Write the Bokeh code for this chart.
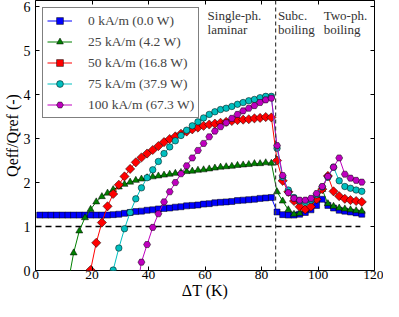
from math import pi
from bokeh.plotting import figure
from bokeh.models import (Legend, LegendItem, Span, Label, LinearAxis, FixedTicker,
                          CustomJSTickFormatter, Range1d)
from bokeh.embed import file_html
from bokeh.resources import INLINE

# ---------------- data ----------------
dT = [1.5, 3.5, 5.5, 7.5, 9.5, 11.5, 13.5, 15.5, 17.5, 19.5, 21.5, 23.5, 25.5, 27.5,
      29.5, 31.5, 33.5, 35.5, 37.5, 39.5, 41.5, 43.5, 45.5, 47.5, 49.5, 51.5, 53.5,
      55.5, 57.5, 59.5, 61.5, 63.5, 65.5, 67.5, 69.5, 71.5, 73.5, 75.5, 77.5, 79.5,
      81.5, 83.5, 85.5, 87.5, 89.5, 91.5, 93.5, 95.5, 97.5, 99.5, 101.5, 103.5,
      105.5, 107.5, 109.5, 111.5, 113.5, 115.5]

q0 = [1.26, 1.26, 1.26, 1.26, 1.26, 1.26, 1.26, 1.26, 1.26, 1.26, 1.26, 1.26, 1.26,
      1.27, 1.28, 1.30, 1.32, 1.34, 1.35, 1.37, 1.38, 1.40, 1.41, 1.42, 1.44, 1.45,
      1.47, 1.48, 1.49, 1.51, 1.52, 1.54, 1.55, 1.56, 1.57, 1.59, 1.60, 1.61, 1.62,
      1.64, 1.65, 1.66,
      1.33, 1.27, 1.26, 1.26, 1.28, 1.32, 1.38, 1.48, 1.62, 1.48, 1.42, 1.37, 1.35,
      1.33, 1.31, 1.28]

q25 = [-0.30, 0.40, 0.90, 1.20, 1.39, 1.56, 1.68, 1.76, 1.84, 1.90, 1.96, 2.01, 2.05,
       2.08, 2.11, 2.13, 2.15, 2.17, 2.19, 2.21, 2.23, 2.25, 2.26, 2.28, 2.29, 2.31,
       2.33, 2.35, 2.36, 2.37, 2.39, 2.40, 2.41, 2.43, 2.43, 2.45, 2.44,
       1.79, 1.58, 1.38, 1.28, 1.30, 1.38, 1.48, 1.62, 1.84, 1.52, 1.46, 1.42, 1.40,
       1.38, 1.36, 1.35]

q50 = [-0.70, 0.01, 0.63, 1.09, 1.46, 1.74, 1.95, 2.14, 2.31, 2.46, 2.57, 2.66, 2.74,
       2.83, 2.92, 2.99, 3.05, 3.11, 3.16, 3.21, 3.25, 3.29, 3.32, 3.34, 3.36, 3.38,
       3.40, 3.42, 3.43, 3.44, 3.46, 3.47, 3.49, 3.48,
       2.50, 2.04, 1.79, 1.58, 1.45, 1.39, 1.45, 1.62, 1.85, 2.15, 1.80, 1.69, 1.63,
       1.60, 1.58, 1.56]

q75 = [-0.50, 0.01, 0.51, 0.95, 1.32, 1.63, 1.88, 2.11, 2.29, 2.48, 2.66, 2.81, 2.95,
       3.07, 3.19, 3.29, 3.38, 3.47, 3.55, 3.61, 3.66, 3.69, 3.73, 3.78, 3.82, 3.86,
       3.89, 3.93, 3.96, 3.96,
       2.78, 2.12, 1.83, 1.66, 1.58, 1.55, 1.60, 1.72, 1.90, 2.12, 2.35, 2.04, 1.91,
       1.87, 1.83, 1.80]

q100 = [-0.60, 0.19, 0.59, 0.98, 1.29, 1.56, 1.79, 2.00, 2.20, 2.38, 2.56, 2.73, 2.89,
        3.04, 3.17, 3.27, 3.36, 3.46, 3.55, 3.63, 3.69, 3.75, 3.82, 3.88, 3.92,
        2.84, 2.16, 1.77, 1.64, 1.60, 1.60, 1.64, 1.75, 1.91, 2.14, 2.35, 2.56, 2.19,
        2.10, 2.05, 2.01]

labels = ["0 kA/m (0.0 W)", "25 kA/m (4.2 W)", "50 kA/m (16.8 W)",
          "75 kA/m (37.9 W)", "100 kA/m (67.3 W)"]

ref_x = [0, 115]
ref_level = [1, 1]
transition_dT = 85
x_ticks = [0, 20, 40, 60, 80, 100, 120]
y_ticks = [0, 1, 2, 3, 4, 5, 6]
regions = [("Single-ph.", "laminar", 60.9), ("Subc.", "boiling", 85.8),
           ("Two-ph.", "boiling", 102.0)]

# ---------------- figure ----------------
FONT = "Liberation Serif"
p = figure(width=383, height=301, x_range=Range1d(0, 120), y_range=Range1d(0, 6.14),
           output_backend="svg", toolbar_location=None,
           min_border_left=30, min_border_right=9, min_border_top=0,
           min_border_bottom=30)
p.grid.visible = False
p.outline_line_color = "black"
p.outline_line_width = 1
p.background_fill_color = "white"
p.border_fill_color = "white"

def style_axis(ax, ticks, show_labels=True, standoff=5, size="14px"):
    ax.ticker = FixedTicker(ticks=ticks)
    ax.axis_line_color = None
    ax.major_tick_in = 4
    ax.major_tick_out = 0
    ax.major_tick_line_color = "black"
    ax.minor_tick_line_color = None
    ax.major_label_text_font = FONT
    ax.major_label_text_font_size = size
    ax.major_label_text_color = "black"
    ax.major_label_standoff = standoff
    ax.axis_label_text_font = FONT
    ax.axis_label_text_font_style = "normal"
    ax.axis_label_text_color = "black"
    if not show_labels:
        ax.formatter = CustomJSTickFormatter(code="return ''")
        ax.major_label_standoff = 0

style_axis(p.xaxis[0], x_ticks, standoff=0, size="13.5px")
style_axis(p.yaxis[0], y_ticks, standoff=5, size="14px")
p.xaxis.axis_label = "ΔT (K)"
p.xaxis.axis_label_text_font_size = "16px"
p.xaxis.axis_label_standoff = 0
p.yaxis.axis_label = "Qeff/Qref (-)"
p.yaxis.axis_label_text_font_size = "16px"
p.yaxis.axis_label_standoff = 0

top = LinearAxis()
right = LinearAxis()
style_axis(top, x_ticks, False)
style_axis(right, y_ticks, False)
p.add_layout(top, "above")
p.add_layout(right, "right")

# reference lines
p.add_layout(Span(location=transition_dT, dimension="height", line_color="#404040",
                  line_width=1.2, line_dash="4 3"))
p.line(ref_x, ref_level, line_color="black", line_width=1.5, line_dash="6 4")

series = [
    (q0, "#0000ff", "square", 6, 0),
    (q25, "#008000", "triangle", 7, 0),
    (q50, "#ff0000", "square", 6.5, pi / 4),
    (q75, "#00bfbf", "circle", 6.5, 0),
    (q100, "#bf00bf", "hex", 7, 0),
]

items = []
for (ys, col, mk, sz, ang), lab in zip(series, labels):
    xs = dT[len(dT) - len(ys):]
    lr = p.line(xs, ys, line_color=col, line_width=1)
    sr = p.scatter(xs, ys, marker=mk, size=sz, angle=ang, fill_color=col,
                   line_color="black", line_width=0.5)
    items.append(LegendItem(label=lab, renderers=[lr, sr]))

legend = Legend(items=items, location=(7, 152), padding=4, spacing=4,
                glyph_width=25, glyph_height=17, label_height=17, label_standoff=16,
                label_text_font=FONT, label_text_font_size="13.5px",
                border_line_color="black", border_line_width=1,
                background_fill_color="white", background_fill_alpha=1)
p.add_layout(legend)

# region annotations
for l1, l2, xpos in regions:
    for txt, yv in ((l1, 5.80), (l2, 5.47)):
        p.add_layout(Label(x=xpos, y=yv, text=txt, text_font=FONT,
                           text_font_size="13px", text_color="#333333",
                           text_baseline="alphabetic", text_align="left"))

open("out.html", "w").write(file_html(p, INLINE))
